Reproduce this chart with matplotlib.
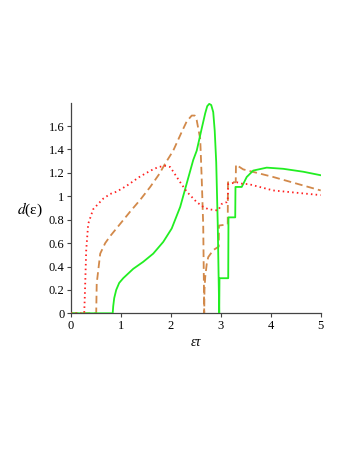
import matplotlib
matplotlib.use("Agg")
import matplotlib.pyplot as plt

plt.rcParams['lines.scale_dashes'] = False
plt.rcParams['mathtext.fontset'] = 'stix'

# red dotted curve
red_x = [0, 0.27, 0.28, 0.29, 0.31, 0.35, 0.45, 0.65, 0.79, 0.92, 1.12, 1.39, 1.6, 1.75,
         1.89, 1.99, 2.19, 2.32, 2.52, 2.65, 2.75, 2.92, 2.95, 3.02, 3.12, 3.14, 3.15, 3.32,
         3.45, 3.55, 4.05, 5.0]
red_y = [0, 0, 0.12, 0.255, 0.54, 0.765, 0.89, 0.98, 1.02, 1.04, 1.09, 1.17, 1.22, 1.25,
         1.26, 1.25, 1.12, 1.04, 0.95, 0.91, 0.89, 0.88, 0.88, 0.935, 0.95, 0.96, 1.105, 1.12,
         1.105, 1.105, 1.05, 1.01]

# orange dashed curve
orange_x = [0, 0.51, 0.52, 0.59, 0.69, 0.79, 1.0, 1.19, 1.39, 1.59, 1.77, 1.89, 2.05, 2.22,
            2.32, 2.42, 2.48, 2.52, 2.59, 2.62, 2.65, 2.67, 2.675, 2.69, 2.72, 2.75, 2.85,
            2.96, 2.965, 3.14, 3.145, 3.30, 3.305, 3.45, 4.05, 5.0]
orange_y = [0, 0, 0.255, 0.51, 0.6, 0.66, 0.77, 0.87, 0.97, 1.08, 1.19, 1.28, 1.39, 1.55,
            1.64, 1.69, 1.69, 1.65, 1.49, 1.15, 0.75, 0, 0.2, 0.31, 0.42, 0.48, 0.54,
            0.57, 0.75, 0.76, 1.12, 1.12, 1.27, 1.23, 1.165, 1.05]

# green solid curve
green_x = [0, 0.84, 0.85, 0.87, 0.91, 0.97, 1.05, 1.25, 1.45, 1.65, 1.85, 2.02, 2.19, 2.32,
           2.45, 2.52, 2.62, 2.69, 2.73, 2.77, 2.81, 2.85, 2.88, 2.91, 2.94, 2.97, 2.975,
           3.15, 3.155, 3.29, 3.295, 3.42, 3.52, 3.65, 3.92, 4.25, 4.65, 5.0]
green_y = [0, 0, 0.06, 0.13, 0.2, 0.26, 0.30, 0.38, 0.44, 0.51, 0.61, 0.725, 0.91, 1.11,
           1.31, 1.39, 1.58, 1.71, 1.77, 1.79, 1.78, 1.72, 1.56, 1.29, 0.77, 0, 0.3,
           0.3, 0.82, 0.82, 1.08, 1.08, 1.165, 1.22, 1.245, 1.235, 1.21, 1.18]

x_ticks = [0, 1, 2, 3, 4, 5]
y_ticks = [0, 0.2, 0.4, 0.6, 0.8, 1.0, 1.2, 1.4, 1.6]
y_tick_labels = ['0', '0.2', '0.4', '0.6', '0.8', '1', '1.2', '1.4', '1.6']

fig = plt.figure(figsize=(3.49, 4.51), dpi=100)
ax = fig.add_axes([0.2026, 0.3053, 0.919 - 0.2026, 0.7723 - 0.3053])

ax.plot(green_x, green_y, color='#22ee22', lw=1.3, zorder=3)
ax.plot(orange_x, orange_y, color='#d2894a', lw=1.3, dashes=(5.5, 3.0), zorder=2)
ax.plot(red_x, red_y, color='#ff2020', lw=1.3, dashes=(1.1, 2.3), zorder=4)

ax.set_xlim(0, 5)
ax.set_ylim(0, 1.8)
for s in ['top', 'right']:
    ax.spines[s].set_visible(False)
for s in ['left', 'bottom']:
    ax.spines[s].set_color('#444444')
    ax.spines[s].set_linewidth(0.9)

serif = ['Liberation Serif', 'DejaVu Serif']
ax.set_xticks(x_ticks)
ax.set_xticklabels([str(t) for t in x_ticks], family=serif, fontsize=9)
ax.set_yticks(y_ticks)
ax.set_yticklabels(y_tick_labels, family=serif, fontsize=9)
ax.tick_params(direction='out', length=3, width=0.8, color='#444444', pad=1.5)

fig.text(196 / 349, 1 - 343 / 451, 'ετ', family=serif, style='italic', fontsize=10,
         ha='center', va='center')
fig.text(30 / 349, 1 - 210 / 451, r'$d$(ε)', family=serif, fontsize=11,
         ha='center', va='center')

fig.savefig('out.png', dpi=100)
